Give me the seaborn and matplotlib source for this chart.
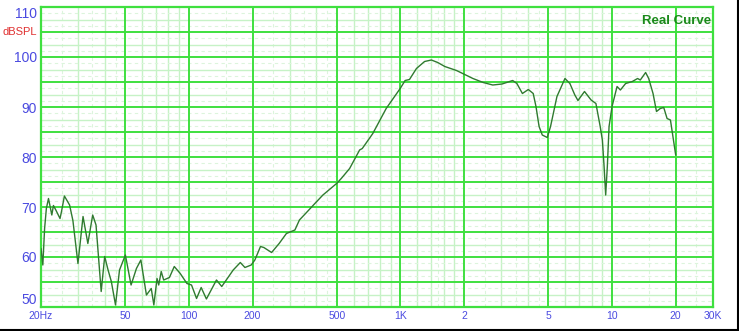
import matplotlib
matplotlib.use("Agg")
import matplotlib.pyplot as plt
import seaborn as sns
import numpy as np
import pandas as pd
from matplotlib.lines import Line2D

# ---- data (frequency in Hz, level in dB SPL) ----
freq_hz = [20, 20.4, 20.8, 21.2, 21.7, 22.5, 22.9, 23.5, 24.6, 25.0, 25.8, 27.3, 28.3,
           29.9, 31.6, 33.3, 35.1, 36.4, 38.5, 40.0, 41.5, 43.0, 45.0, 47.0, 50.1,
           53.3, 56.5, 59.3, 63.0, 66.4, 68.3, 70.7, 72.0, 74.0, 76.0, 80.9, 85.3,
           91.0, 97.9, 102.9, 108.7, 114.3, 121, 135, 143, 162, 175, 184, 197, 205,
           218, 226, 246, 267, 289, 317, 333, 356, 392, 430, 499, 525, 575, 641, 660,
           740, 856, 997, 1052, 1103, 1190, 1300, 1400, 1500, 1620, 1840, 1990, 2200,
           2460, 2730, 3020, 3390, 3550, 3770, 4020, 4240, 4370, 4520, 4680, 4940,
           5120, 5490, 5990, 6320, 6670, 6900, 7410, 7960, 8390, 8790, 9000, 9170,
           9330, 9500, 9680, 10000, 10560, 10950, 11590, 12470, 13200, 13600, 14410,
           14900, 15620, 16220, 16900, 17550, 18200, 18880, 19300, 19990]
level_db = [61.7, 58.4, 65.7, 69.7, 71.7, 68.4, 70.3, 69.4, 67.7, 69.1, 72.2, 70.4, 67.3,
            58.7, 68.1, 62.7, 68.4, 66.4, 53.1, 60.1, 57.4, 55.1, 50.4, 57.4, 60.4,
            54.4, 57.7, 59.4, 52.4, 53.7, 50.4, 55.7, 54.4, 57.1, 55.4, 55.9, 58.1,
            56.7, 54.7, 54.4, 51.7, 53.9, 51.6, 55.4, 54.1, 57.4, 58.9, 57.9, 58.4, 59.4,
            62.1, 61.9, 60.9, 62.7, 64.7, 65.4, 67.4, 68.7, 70.6, 72.4, 74.7, 75.7, 77.7, 81.4, 81.7,
            84.7, 89.7, 93.7, 95.3, 95.5, 97.7, 99.1, 99.4, 98.9, 98.1, 97.3, 96.6, 95.7,
            94.9, 94.4, 94.6, 95.3, 94.7, 92.7, 93.5, 92.7, 90.1, 86.1, 84.4, 83.9,
            86.1, 92.1, 95.7, 94.7, 92.4, 91.3, 93.1, 91.4, 90.7, 86.1, 83.4, 78.1,
            72.4, 78.1, 86.1, 90.1, 94.1, 93.4, 94.7, 95.1, 95.7, 95.4, 96.9,
            95.7, 92.7, 89.1, 89.7, 89.9, 87.7, 87.4, 84.7, 80.4]

x_ticks = [20, 50, 100, 200, 500, 1000, 2000, 5000, 10000, 20000, 30000]
x_labels = ["20Hz", "50", "100", "200", "500", "1K", "2", "5", "10", "20", "30K"]
y_ticks = [50, 60, 70, 80, 90, 100, 110]
y_labels = ["50", "60", "70", "80", "90", "100", "110"]

df = pd.DataFrame({"freq": freq_hz, "level": level_db})

sns.set_style("white")
plt.rcParams["font.family"] = ["Liberation Sans", "DejaVu Sans"]

W, H = 739, 331
fig = plt.figure(figsize=(W / 100, H / 100), dpi=100)
fig.patch.set_facecolor("white")
ax = fig.add_axes([41 / W, 1 - 307 / H, (713 - 41) / W, 300 / H])
ax.set_facecolor("white")
ax.set_xscale("log")
ax.set_xlim(20, 30000)
ax.set_ylim(50, 110)

bright = "#3fe03f"
light = "#c6f2c6"
dashc = "#dcf5dc"

# minor vertical grid
for dec in [10, 100, 1000, 10000]:
    for m in range(1, 10):
        f = dec * m
        if f <= 20 or f >= 30000 or f in x_ticks:
            continue
        ax.axvline(f, color=light, lw=1.0, zorder=0)
    for m in [1.5, 2.5, 3.5, 4.5]:
        f = dec * m
        if 20 < f < 30000:
            ax.axvline(f, color=dashc, lw=0.8, ls=(0, (3, 3)), zorder=0)
for f in [1200, 1400, 1600, 1800]:
    ax.axvline(f, color=light, lw=1.0, zorder=0)
# minor horizontal grid
for v in np.arange(52.5, 110, 5):
    ax.axhline(v, color=light, lw=1.0, zorder=0)
for v in np.arange(51.25, 110, 2.5):
    ax.axhline(v, color=dashc, lw=0.8, ls=(0, (3, 3)), zorder=0)
# major grid
for f in [50, 100, 200, 500, 1000, 2000, 5000, 10000, 20000]:
    ax.axvline(f, color=bright, lw=1.4, zorder=1)
for v in range(55, 110, 5):
    ax.axhline(v, color=bright, lw=1.4, zorder=1)

sns.lineplot(data=df, x="freq", y="level", ax=ax, color="#2f7a2f", lw=1.0,
             zorder=3, legend=False)

for s in ax.spines.values():
    s.set_color(bright)
    s.set_linewidth(1.6)

ax.set_xticks(x_ticks)
ax.set_xticklabels(x_labels)
ax.set_xticks([], minor=True)
ax.set_yticks(y_ticks)
ax.set_yticklabels(y_labels)
ax.tick_params(axis="x", length=0, pad=3, labelsize=7.5, colors="#4a4ae0")
ax.tick_params(axis="y", length=0, pad=3, labelsize=10, colors="#4a4ae0")
ylabs = ax.get_yticklabels()
ylabs[0].set_verticalalignment("bottom")
ylabs[-1].set_verticalalignment("top")
ax.set_xlabel("")
ax.set_ylabel("")

ax.text(-0.006, 105, "dBSPL", transform=ax.get_yaxis_transform(), ha="right",
        va="center", color="#e03030", fontsize=8)
ax.text(0.997, 0.972, "Real Curve", transform=ax.transAxes, ha="right", va="top",
        color="#1a8a1a", fontsize=9.5, fontweight="bold")

# black frame on right and bottom of the image
fig.add_artist(Line2D([0, 1], [1.5 / H, 1.5 / H], transform=fig.transFigure,
                      color="black", lw=1.5))
fig.add_artist(Line2D([1 - 1.5 / W, 1 - 1.5 / W], [0, 1], transform=fig.transFigure,
                      color="black", lw=1.5))

fig.savefig("out.png", dpi=100, facecolor="white")
